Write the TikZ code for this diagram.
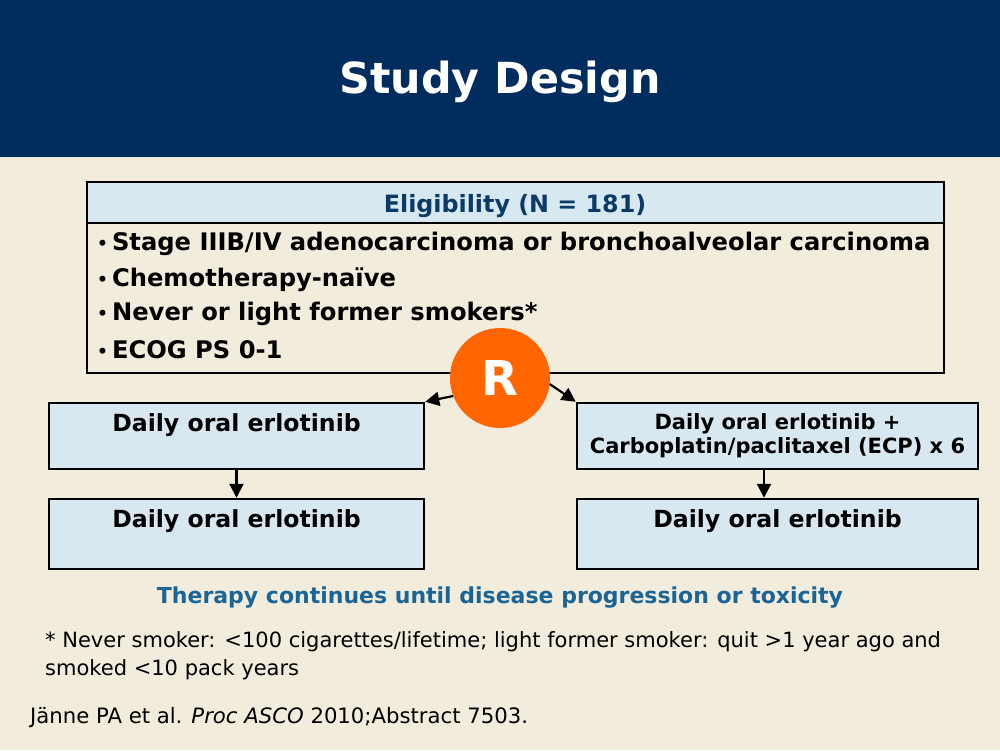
\documentclass[tikz,border=0pt]{standalone}
\usepackage{fontspec}
\setmainfont{DejaVu Sans}
\usepackage{xcolor}
\usetikzlibrary{arrows.meta,positioning}

\definecolor{navyband}{RGB}{0,45,94}
\definecolor{bgbeige}{RGB}{241,236,220}
\definecolor{paleblue}{RGB}{216,232,241}
\definecolor{eligblue}{RGB}{12,58,102}
\definecolor{contblue}{RGB}{26,100,150}
\definecolor{rorange}{RGB}{255,102,0}

\newcommand{\bul}{\raisebox{1.5pt}{\fontsize{17}{17}\selectfont•}\hspace{4pt}}

\tikzset{
  armbox/.style={draw, line width=2.5pt, fill=paleblue, minimum width=375pt, minimum height=66pt, inner sep=0pt},
  armtxt/.style={font=\fontsize{23.6}{27}\selectfont\bfseries, inner sep=0pt},
  bultxt/.style={anchor=west, font=\fontsize{24.2}{27}\selectfont\bfseries, inner sep=0pt},
  arr/.style={line width=2.2pt, -{Triangle[length=14pt,width=14pt]}},
}

\begin{document}
\begin{tikzpicture}[x=1pt, y=-1pt]
  \useasboundingbox (0,0) rectangle (1000,750);
  \fill[bgbeige] (0,0) rectangle (1000,750);
  \fill[navyband] (0,0) rectangle (1000,157);
  \node[text=white, font=\fontsize{42.8}{50}\selectfont\bfseries] (title) at (500,82) {Study Design};

  % eligibility box
  \fill[paleblue] (87,182) rectangle (944,223);
  \draw[line width=2pt] (87,182) rectangle (944,373);
  \draw[line width=2pt] (87,223) -- (944,223);
  \node[text=eligblue, font=\fontsize{23.8}{27}\selectfont\bfseries] (elig) at (515,206) {Eligibility (N = 181)};
  \node[bultxt] (b1) at (97,244) {\bul Stage IIIB/IV adenocarcinoma or bronchoalveolar carcinoma};
  \node[bultxt] (b2) at (97,280) {\bul Chemotherapy-naïve};
  \node[bultxt] (b3) at (97,314) {\bul Never or light former smokers*};
  \node[bultxt] (b4) at (97,350) {\bul ECOG PS 0-1};

  % randomisation
  \node[circle, fill=rorange, minimum size=100pt, inner sep=0pt, text=white,
        font=\fontsize{48}{50}\selectfont\bfseries] (R) at (500,378) {R};

  % arms
  \node[armbox] (arm1) at (236.5,436) {};
  \node[armbox, minimum width=401pt] (arm2) at (777.5,436) {};
  \node[armbox, minimum height=70pt] (arm1b) at (236.5,534) {};
  \node[armbox, minimum width=401pt, minimum height=70pt] (arm2b) at (777.5,534) {};

  \node[armtxt, below=12pt of arm1.north] (arm1t) {Daily oral erlotinib};
  \node[font=\fontsize{21}{24}\selectfont\bfseries, align=center, inner sep=0pt,
        below=11.5pt of arm2.north] (arm2t) {Daily oral erlotinib +\\Carboplatin/paclitaxel (ECP) x 6};
  \node[armtxt, below=12pt of arm1b.north] (arm1bt) {Daily oral erlotinib};
  \node[armtxt, below=12pt of arm2b.north] (arm2bt) {Daily oral erlotinib};

  \draw[arr] (R.201) -- (arm1.north east);
  \draw[arr] (R.353) -- (arm2.north west);
  \draw[arr] (arm1) -- (arm1b);
  \draw[arr] (arm2.south -| 764,0) -- (arm2b.north -| 764,0);

  \node[text=contblue, font=\fontsize{22}{26}\selectfont\bfseries] (cont) at (500,598)
    {Therapy continues until disease progression or toxicity};

  % footnote and reference
  \node[anchor=north west, align=left, inner sep=0pt, font=\fontsize{21}{28}\selectfont] (foot) at (45,631)
    {* Never smoker: <100 cigarettes/lifetime; light former smoker: quit >1 year ago and\\smoked <10 pack years};
  \node[anchor=west, inner sep=0pt, font=\fontsize{21.2}{24}\selectfont] (ref) at (30,718)
    {Jänne PA et al. \textit{Proc ASCO} 2010;Abstract 7503.};
\end{tikzpicture}
\end{document}
